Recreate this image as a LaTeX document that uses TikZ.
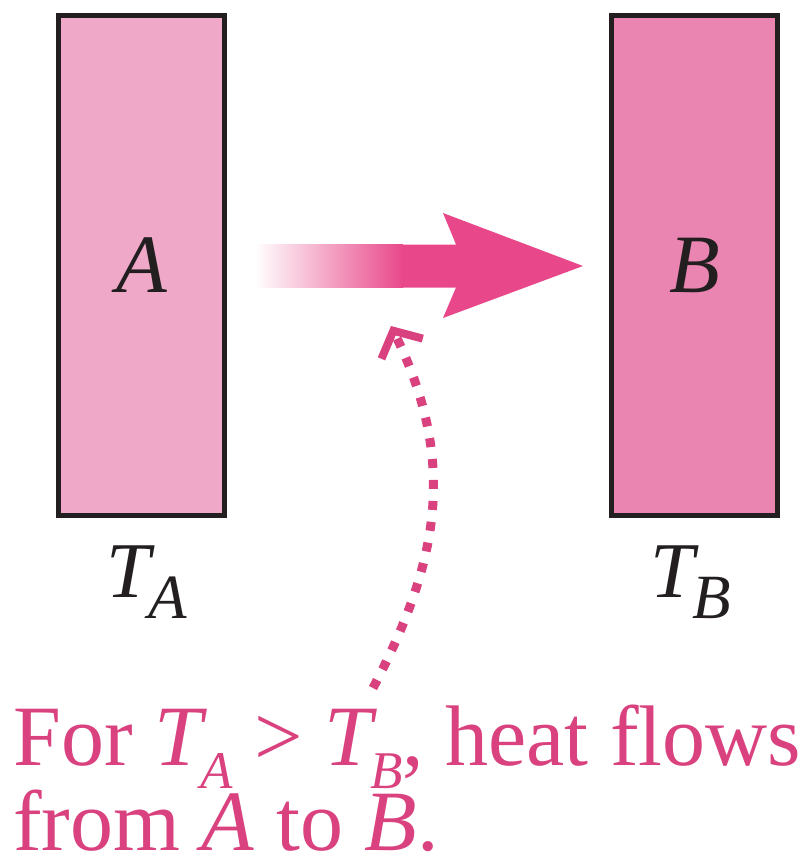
\documentclass[tikz,border=0pt]{standalone}
\usepackage{fontspec}
\setmainfont{Liberation Serif}
\usetikzlibrary{arrows.meta,positioning}
\definecolor{wallA}{RGB}{240,168,201}
\definecolor{wallB}{RGB}{234,132,177}
\definecolor{flowpink}{RGB}{232,72,138}
\definecolor{notepink}{RGB}{217,66,126}
\definecolor{edgegray}{RGB}{35,31,32}
\newcommand\tsub[3]{\textit{#1}\kern-0.08em\raisebox{-0.27em}{\fontsize{#3}{#3}\selectfont\textit{#2}}}

\begin{document}
\begin{tikzpicture}[x=1pt,y=-1pt]
  \tikzstyle{wall}=[rectangle,draw=edgegray,line width=4.5pt,minimum width=166pt,minimum height=500pt,inner sep=0pt,font=\fontsize{83}{83}\selectfont\itshape,text=edgegray]
  \tikzstyle{templabel}=[inner sep=0pt,anchor=base,font=\fontsize{79}{79}\selectfont,text=edgegray]
  \tikzstyle{note}=[inner sep=0pt,anchor=base west,font=\fontsize{86}{86}\selectfont,text=notepink]
  \tikzstyle{dotline}=[draw=notepink,line width=9pt,dash pattern=on 9pt off 12pt,-{Straight Barb[length=20pt,width=46pt,line width=8pt]}]
  \useasboundingbox (0,0) rectangle (805,862);

  \node[wall,fill=wallA] (wa) at (141.5,265.5) {A};
  \node[wall,fill=wallB] (wb) at (694.5,265.5) {B};

  \node[templabel] (ta) at (147,597) {\tsub{T}{A}{63}};
  \node[templabel] (tb) at (691,597) {\tsub{T}{B}{63}};

  % heat flow arrow
  \shade[left color=white,right color=flowpink] (255,244.5) rectangle (403,287.5);
  \fill[flowpink] (402,244.5) -- (456,244.5) -- (443,213) -- (583,266) -- (443,318) -- (456,287.5) -- (402,287.5) -- cycle;

  \node[note] (line1) at (13,765) {For \tsub{T}{A}{53} > \tsub{T}{B}{53}, heat flows};
  \node[note] (line2) at (13,850) {from \textit{A} to \textit{B}.};

  \coordinate (dotstart) at (373,688);
  \coordinate (dottip) at (391,326);
  \draw[dotline] (dotstart) .. controls (440,560) and (457,461) .. (dottip);
\end{tikzpicture}
\end{document}
